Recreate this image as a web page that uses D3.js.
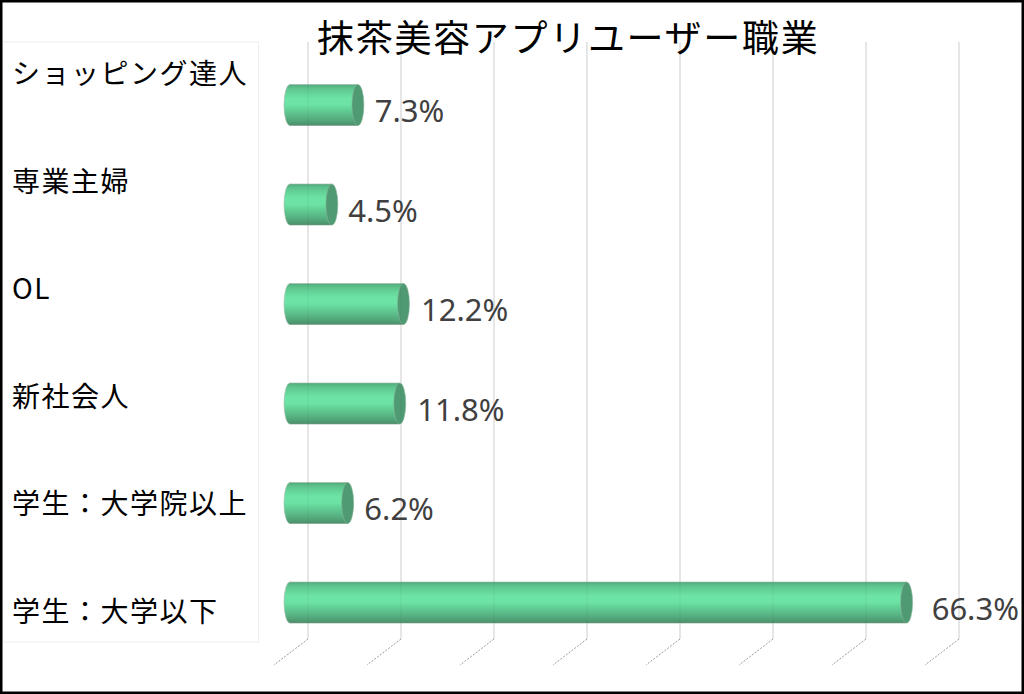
<!DOCTYPE html>
<html>
<head>
  <meta charset="utf-8">
  <title>抹茶美容アプリユーザー職業</title>
  <script src="https://d3js.org/d3.v7.min.js"></script>
  <style>
    html, body { margin: 0; padding: 0; background: #fff; }
    svg { display: block; }
  </style>
</head>
<body>
<script>
// data
var title = "抹茶美容アプリユーザー職業";
var categories = ["ショッピング達人", "専業主婦", "OL", "新社会人", "学生：大学院以上", "学生：大学以下"];
var values = [7.3, 4.5, 12.2, 11.8, 6.2, 66.3];
var gridTicks = [0, 10, 20, 30, 40, 50, 60, 70];

var W = 1024, H = 694;
var depth = { dx: -34, dy: 26 };   // 3d floor offset
var barShift = -18;                // bars sit between back wall and front edge

var svg = d3.select("body").append("svg")
  .attr("width", W).attr("height", H);

var defs = svg.append("defs");
var grad = defs.append("linearGradient")
  .attr("id", "cyl").attr("x1", 0).attr("y1", 0).attr("x2", 0).attr("y2", 1);
[[0, "#52a97b"], [0.08, "#5cc08b"], [0.2, "#64d398"], [0.35, "#6de4a6"],
 [0.5, "#6ce2a4"], [0.62, "#62cf95"], [0.75, "#5bbc89"], [0.88, "#53a67a"], [1, "#4a8f6b"]]
  .forEach(function (s) { grad.append("stop").attr("offset", s[0]).attr("stop-color", s[1]); });

// x scale for the back wall gridlines
var x = d3.scaleLinear().domain([0, 70]).range([308, 959]);
// bar centres and label centres use their own point scales
var yBar = d3.scalePoint().domain(categories).range([55.25, 652.25]).padding(0.5);
var yLab = d3.scalePoint().domain(categories).range([18.2, 663.8]).padding(0.5);

var gridTop = 42, gridBottom = 639;

// category label box
svg.append("rect")
  .attr("x", 2.5).attr("y", 42).attr("width", 256).attr("height", 600)
  .attr("fill", "none").attr("stroke", "#eeeeee").attr("stroke-width", 1);

// gridlines
var grid = svg.append("g");
grid.selectAll("line.v").data(gridTicks).enter().append("line")
  .attr("x1", function (d) { return x(d); }).attr("x2", function (d) { return x(d); })
  .attr("y1", gridTop).attr("y2", gridBottom)
  .attr("stroke", "#d9d9d9").attr("stroke-width", 1);
grid.selectAll("line.f").data(gridTicks).enter().append("line")
  .attr("x1", function (d) { return x(d); }).attr("y1", gridBottom)
  .attr("x2", function (d) { return x(d) + depth.dx; }).attr("y2", gridBottom + depth.dy)
  .attr("stroke", "#9a9a9a").attr("stroke-width", 1).attr("stroke-dasharray", "2,1.5");

// cylinders
var bh = 41, rx = 6;
var bars = svg.append("g").selectAll("g").data(categories).enter().append("g");
bars.each(function (c, i) {
  var g = d3.select(this);
  var cy = yBar(c);
  var x0 = x(0) + barShift, x1 = x(values[i]) + barShift;
  g.append("ellipse").attr("cx", x0).attr("cy", cy).attr("rx", rx).attr("ry", bh / 2)
    .attr("fill", "url(#cyl)").attr("stroke", "#9fb8aa").attr("stroke-width", 0.6);
  g.append("rect").attr("x", x0).attr("y", cy - bh / 2).attr("width", x1 - x0).attr("height", bh)
    .attr("fill", "url(#cyl)");
  g.append("line").attr("x1", x0).attr("x2", x1).attr("y1", cy - bh / 2).attr("y2", cy - bh / 2)
    .attr("stroke", "#9fb8aa").attr("stroke-width", 0.6);
  g.append("line").attr("x1", x0).attr("x2", x1).attr("y1", cy + bh / 2).attr("y2", cy + bh / 2)
    .attr("stroke", "#7f9a8a").attr("stroke-width", 0.6);
  g.append("ellipse").attr("cx", x1).attr("cy", cy).attr("rx", rx).attr("ry", bh / 2)
    .attr("fill", "#4f9a73").attr("stroke", "#88b39b").attr("stroke-width", 0.6);
});

// faint gridlines showing through the bars
svg.append("g").selectAll("line").data(gridTicks).enter().append("line")
  .attr("x1", function (d) { return x(d); }).attr("x2", function (d) { return x(d); })
  .attr("y1", gridTop).attr("y2", gridBottom)
  .attr("stroke", "#000").attr("stroke-opacity", 0.05).attr("stroke-width", 1);

// value labels; the gap widens a little with perspective toward the right
svg.append("g").selectAll("text").data(categories).enter().append("text")
  .attr("x", function (c, i) {
    var end = x(values[i]) + barShift + rx;
    return end + 10 + (end - x(0)) * 0.015;
  })
  .attr("y", function (c) { return yBar(c) + 17; })
  .attr("font-family", "'Noto Sans', 'Open Sans', sans-serif")
  .attr("font-size", 31).attr("fill", "#404040")
  .text(function (c, i) { return values[i].toFixed(1) + "%"; });

// category labels
svg.append("g").selectAll("text").data(categories).enter().append("text")
  .attr("x", 12).attr("y", function (c) { return yLab(c); })
  .attr("dominant-baseline", "central")
  .attr("font-family", "'Noto Sans CJK JP', sans-serif")
  .attr("font-size", 28).attr("letter-spacing", 1.5).attr("fill", "#000")
  .text(function (c) { return c; });

// title
svg.append("text")
  .attr("x", 317).attr("y", 36)
  .attr("dominant-baseline", "central")
  .attr("font-family", "'Noto Sans CJK JP', sans-serif")
  .attr("font-size", 37).attr("letter-spacing", 1.7).attr("fill", "#000")
  .text(title);

// outer frame
svg.append("rect")
  .attr("x", 1.25).attr("y", 1.25).attr("width", W - 2.5).attr("height", H - 2.5)
  .attr("fill", "none").attr("stroke", "#000").attr("stroke-width", 2.5);
</script>
</body>
</html>
